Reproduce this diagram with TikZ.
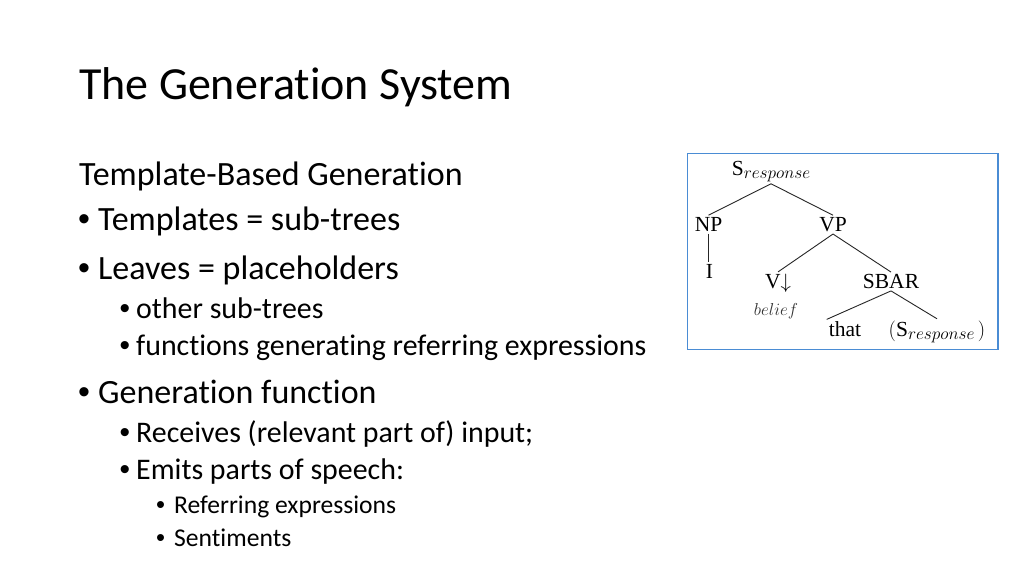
\documentclass[tikz,border=0pt]{standalone}
\usepackage{fontspec}
\setmainfont{Carlito}[Ligatures={NoCommon,NoContextual}]
\newfontfamily\treefont{Liberation Serif}
\newfontfamily\bulfont{Liberation Sans}
\definecolor{boxblue}{HTML}{4A8CD4}
\newcommand\respsub{\raisebox{-3.2pt}{\fontsize{16.6}{17}\selectfont$response$}}
\begin{document}
\begin{tikzpicture}[x=1pt,y=-1pt,
  title/.style={anchor=base west,inner sep=0pt,font=\fontsize{46}{52}\selectfont},
  lone/.style={anchor=base west,inner sep=0pt,font=\fontsize{34}{40}\selectfont},
  ltwo/.style={anchor=base west,inner sep=0pt,font=\fontsize{29.9}{35}\selectfont},
  lthree/.style={anchor=base west,inner sep=0pt,font=\fontsize{25.6}{30}\selectfont},
  bone/.style={anchor=base west,inner sep=0pt,font=\bulfont\fontsize{34}{40}\selectfont},
  btwo/.style={anchor=base west,inner sep=0pt,font=\bulfont\fontsize{29.9}{35}\selectfont},
  bthree/.style={anchor=base west,inner sep=0pt,font=\bulfont\fontsize{25.6}{30}\selectfont},
  tlab/.style={anchor=base,inner sep=2pt,font=\treefont\fontsize{21.5}{26}\selectfont},
  tsmall/.style={anchor=base,inner sep=1pt,font=\fontsize{16}{18}\selectfont,text=black!80},
  tedge/.style={draw=black!85,line width=0.9pt},
  tbox/.style={draw=boxblue,line width=1.6pt}]
\useasboundingbox (0,0) rectangle (1024,576);
\fill[white] (0,0) rectangle (1024,576);

\node[title] (ttl) at (79,99.5) {The Generation System};

\node[lone] (h) at (79,185) {Template-Based Generation};
\node[bone] (b1) at (78,230) {•};
\node[lone] (t1) at (98,230) {Templates = sub-trees};
\node[bone] (b2) at (78,279) {•};
\node[lone] (t2) at (98,279) {Leaves = placeholders};
\node[btwo] (b3) at (119.5,318) {•};
\node[ltwo] (t3) at (136,318) {other sub-trees};
\node[btwo] (b4) at (119.5,355) {•};
\node[ltwo] (t4) at (136,355) {functions generating referring expressions};
\node[bone] (b5) at (78,403) {•};
\node[lone] (t5) at (98,403) {Generation function};
\node[btwo] (b6) at (119.5,442) {•};
\node[ltwo] (t6) at (136,442) {Receives (relevant part of) input;};
\node[btwo] (b7) at (119.5,479) {•};
\node[ltwo] (t7) at (136,479) {Emits parts of speech:};
\node[bthree] (b8) at (156,513) {•};
\node[lthree] (t8) at (174,513) {Referring expressions};
\node[bthree] (b9) at (156,546) {•};
\node[lthree] (t9) at (174,546) {Sentiments};

% tree
\node[tbox,minimum width=310.5pt,minimum height=196pt,anchor=north west,inner sep=0pt] (box) at (686.5,152.5) {};
\node[tlab] (s) at (771,175) {S\respsub};
\node[tlab] (np) at (708.5,231.5) {NP};
\node[tlab] (vp) at (833,231.5) {VP};
\node[tlab] (i) at (709.5,278.5) {I};
\node[tlab] (v) at (778,288.5) {V$\downarrow$};
\node[tlab] (sbar) at (891,288.5) {SBAR};
\node[tsmall] (bel) at (776,315.5) {$belief$};
\node[tlab] (that) at (845,336.5) {that};
\node[tlab] (s2) at (937,336.5) {$($S\respsub$\,)$};

\draw[tedge] (s.south) -- (np.north);
\draw[tedge] (s.south) -- (vp.north);
\draw[tedge] (np.south) -- (np.south |- i.north);
\draw[tedge] (vp.south) -- (v.north);
\draw[tedge] (vp.south) -- (sbar.north);
\draw[tedge] (sbar.south) -- (that.north west);
\draw[tedge] (sbar.south) -- (s2.north);
\end{tikzpicture}
\end{document}
